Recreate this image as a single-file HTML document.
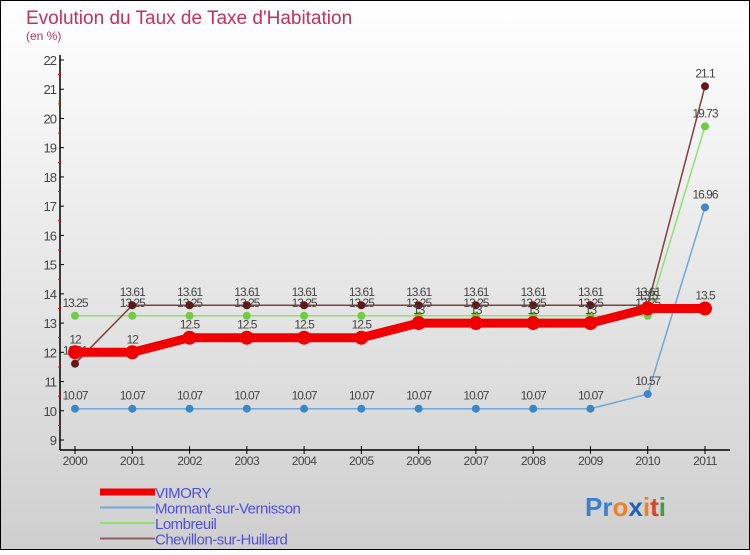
<!DOCTYPE html>
<html><head><meta charset="utf-8"><style>
body{margin:0;}
svg text{font-family:"Liberation Sans",sans-serif;}
</style></head><body>
<svg id="c" width="750" height="550" xmlns="http://www.w3.org/2000/svg">
<defs><linearGradient id="bg" x1="0" y1="0" x2="0" y2="1"><stop offset="0" stop-color="#ffffff"/><stop offset="1" stop-color="#cfcfcf"/></linearGradient></defs>
<rect x="0.5" y="0.5" width="749" height="549" fill="url(#bg)" stroke="#000"/>
<text x="26" y="24" font-size="19" fill="#c8305a">Evolution du Taux de Taxe d'Habitation</text>
<text x="26" y="40" font-size="12" fill="#c8305a">(en %)</text>
<g id="axes"></g><g id="series"></g>
<g id="legend"></g>
<text x="585" y="516" font-size="26" font-weight="bold"><tspan fill="#3a7fd0">Pr</tspan><tspan fill="#f08020">o</tspan><tspan fill="#2060c0">x</tspan><tspan fill="#f08020">i</tspan><tspan fill="#e04020">t</tspan><tspan fill="#40a040">i</tspan></text>
</svg>
<script>
const years=[2000,2001,2002,2003,2004,2005,2006,2007,2008,2009,2010,2011];
const vimory=[12,12,12.5,12.5,12.5,12.5,13,13,13,13,13.5,13.5];
const mormant=[10.07,10.07,10.07,10.07,10.07,10.07,10.07,10.07,10.07,10.07,10.57,16.96];
const lombreuil=[13.25,13.25,13.25,13.25,13.25,13.25,13.25,13.25,13.25,13.25,13.25,19.73];
const chevillon=[11.61,13.61,13.61,13.61,13.61,13.61,13.61,13.61,13.61,13.61,13.61,21.1];
const yTicks=[9,10,11,12,13,14,15,16,17,18,19,20,21,22];
const NS="http://www.w3.org/2000/svg";
const X=i=>75+i*(630/11), Y=v=>440-(v-9)*(380/13);
function mk(p,t,a){const e=document.createElementNS(NS,t);for(const k in a)e.setAttribute(k,a[k]);p.appendChild(e);return e;}
const ax=document.getElementById('axes');
let l=mk(ax,'line',{x1:60,y1:55,x2:60,y2:450,stroke:'#000','stroke-width':1.5});


l=mk(ax,'line',{x1:60,y1:450,x2:730,y2:450,stroke:'#000','stroke-width':1.5});


yTicks.forEach(v=>{
 mk(ax,'line',{x1:60,y1:Y(v),x2:64,y2:Y(v),stroke:'#000'});
 if(v<22) mk(ax,'line',{x1:58,y1:Y(v+0.5),x2:61,y2:Y(v+0.5),stroke:'#f00'});
 const t=mk(ax,'text',{x:56,y:Y(v)+5,'text-anchor':'end','font-size':13,fill:'#444','letter-spacing':'-1'});
 t.textContent=v;
 
 
});
years.forEach((y,i)=>{
 mk(ax,'line',{x1:X(i),y1:446,x2:X(i),y2:454,stroke:'#000'});
 const t=mk(ax,'text',{x:X(i),y:465,'text-anchor':'middle','font-size':12,fill:'#444','letter-spacing':'-0.5'});
 t.textContent=y;
 
 
});
const S=document.getElementById('series');
const series=[
 {n:'mormant',d:mormant,c:'#6fa8d8',m:'#3a88c8',w:1.5,r:4},
 {n:'lombreuil',d:lombreuil,c:'#90e070',m:'#70cc40',w:1.5,r:4},
 {n:'chevillon',d:chevillon,c:'#804040',m:'#601818',w:1.5,r:4},
 {n:'vimory',d:vimory,c:'#f00000',m:'#f00000',w:9,r:7}
];
series.forEach(s=>{
 const g=mk(S,'g',{});
 
 
 const p=mk(g,'polyline',{points:s.d.map((v,i)=>X(i)+','+Y(v)).join(' '),fill:'none',stroke:s.c,'stroke-width':s.w,'stroke-linejoin':'round'});
 
 
 s.d.forEach((v,i)=>{
  const c=mk(g,'circle',{cx:X(i),cy:Y(v),r:s.r,fill:s.m});
  
  
  const t=mk(g,'text',{x:X(i),y:Y(v)-9,'text-anchor':'middle','font-size':12,fill:'#444','letter-spacing':'-1'});
  t.textContent=v;
  
  
 });
});
const L=document.getElementById('legend');
[['VIMORY','#f00000',7],['Mormant-sur-Vernisson','#6fa8d8',2],['Lombreuil','#90e070',2],['Chevillon-sur-Huillard','#906060',2]].forEach((e,i)=>{
 const y=492+i*15.5;
 const ln=mk(L,'line',{x1:100,y1:y,x2:155,y2:y,stroke:e[1],'stroke-width':e[2]});
 
 
 const t=mk(L,'text',{x:155,y:y+6,'font-size':15,fill:'#5050e0','letter-spacing':'-0.5'});
 t.textContent=e[0];
 
 
});
</script>
</body></html>
